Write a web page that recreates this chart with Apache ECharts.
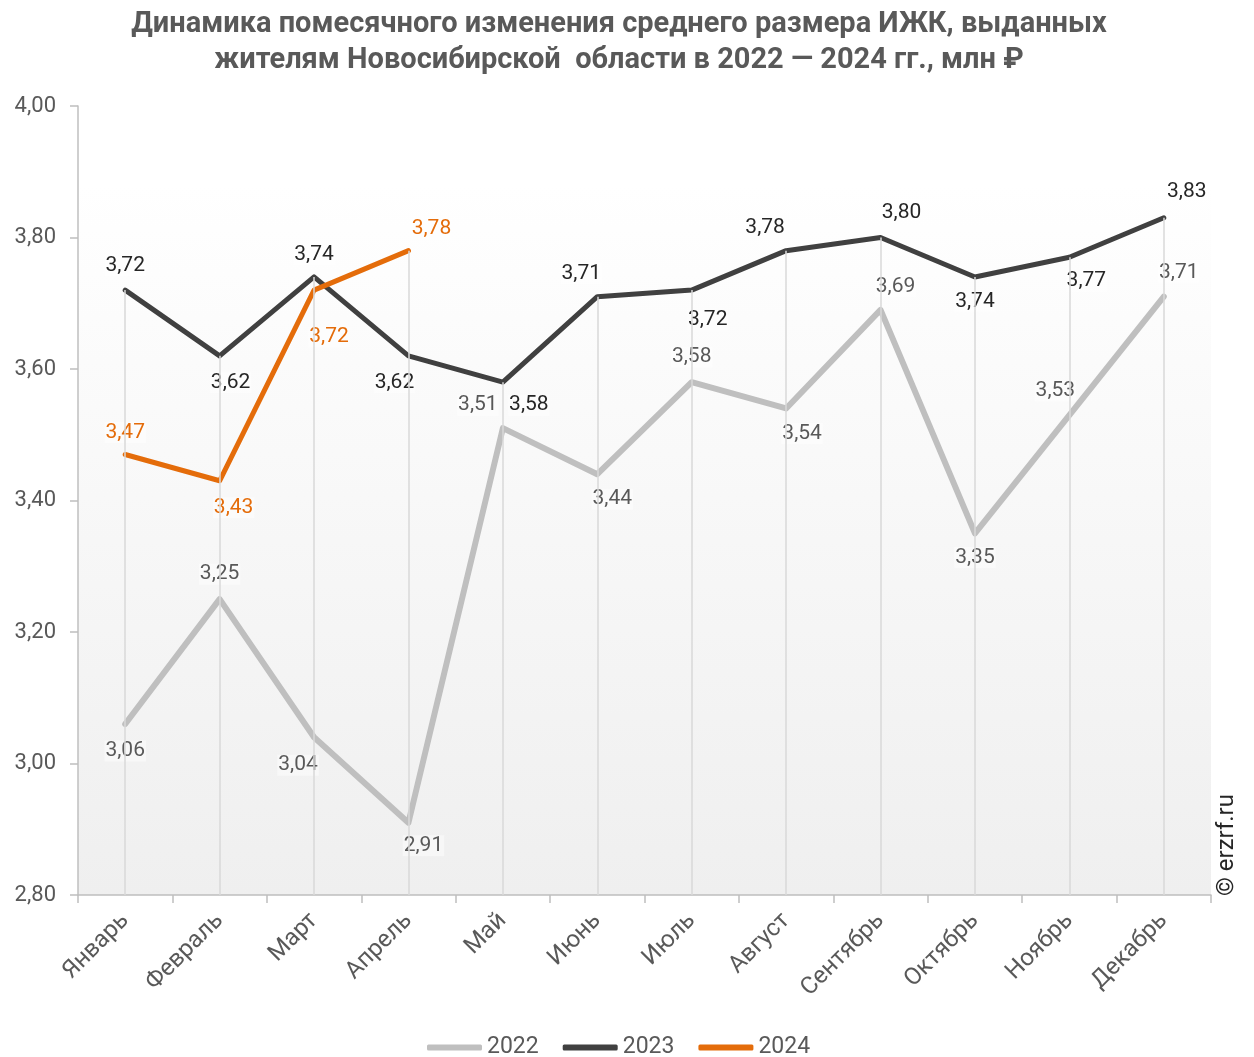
<!DOCTYPE html>
<html>
<head>
<meta charset="utf-8">
<script src="https://cdn.jsdelivr.net/npm/echarts@6/dist/echarts.min.js"></script>
<style>
html,body{margin:0;padding:0;background:#fff;}
#main{width:1254px;height:1057px;}
</style>
</head>
<body>
<div id="main"></div>
<script>
// months
var months = ['Январь','Февраль','Март','Апрель','Май','Июнь','Июль','Август','Сентябрь','Октябрь','Ноябрь','Декабрь'];
// values, mln rub
var y2022 = [3.06,3.25,3.04,2.91,3.51,3.44,3.58,3.54,3.69,3.35,3.53,3.71];
var y2023 = [3.72,3.62,3.74,3.62,3.58,3.71,3.72,3.78,3.80,3.74,3.77,3.83];
var y2024 = [3.47,3.43,3.72,3.78];
var yTicks = [2.8,3.0,3.2,3.4,3.6,3.8,4.0];

// label shift from point, px
var off2022 = [[0,27],[0,-25],[-16,28],[15,23],[-25,-23],[15,25],[0,-25],[16,25],[15,-23],[0,24],[-14,-24],[15,-24]];
var off2023 = [[0,-24],[11,27],[0,-22],[-14,27],[26,23],[-16,-23],[16,30],[-21,-23],[21,-25],[0,25],[17,24],[23,-26]];
var off2024 = [[0,-22],[14,27],[15,47],[23,-22]];

function fmt(v){ return v.toFixed(2).replace('.',','); }

function withLabels(vals,offs){
	var arr = [];
	for(var i=0;i<vals.length;i++){
		arr.push({value:vals[i],label:{offset:offs[i]}});
	}
	return arr;
}

//drop lines from the top point of each month
function dropLines(){
	var lines = [];
	for(var i=0;i<months.length;i++){
		var top = Math.max(y2022[i], y2023[i], (i < y2024.length ? y2024[i] : -1));
		lines.push([{coord:[months[i],top]},{coord:[months[i],yTicks[0]]}]);
	}
	return lines;
}

var myChart = echarts.init(document.getElementById('main'));

function lineSeries(name,vals,offs,color,width,labelColor){
	return {
		name:name,
		type:'line',
		data:withLabels(vals,offs),
		symbol:'circle',
		symbolSize:1,
		lineStyle:{color:color,width:width,cap:'round',join:'round'},
		itemStyle:{color:color},
		z:3,
		label:{
			show:true,
			position:'inside',
			fontFamily:'Roboto',
			fontSize:21,
			color:labelColor,
			backgroundColor:'rgba(255,255,255,0.45)',
			padding:[0,1],
			formatter:function(p){ return fmt(p.value); }
		},
		emphasis:{disabled:true},
		animation:false
	};
}

var option = {
	backgroundColor:'#ffffff',
	title:{
		text:'Динамика помесячного изменения среднего размера ИЖК, выданных\nжителям Новосибирской  области в 2022 — 2024 гг., млн ₽',
		left:619,
		top:7,
		padding:0,
		textAlign:'center',
		textStyle:{fontFamily:'Roboto',fontSize:29,fontWeight:'bold',color:'#595959',lineHeight:36}
	},
	legend:{
		data:['2022','2023','2024'],
		bottom:-7,
		left:422,
		icon:'roundRect',
		itemWidth:55,
		itemHeight:6,
		itemGap:24,
		textStyle:{fontFamily:'Roboto',fontSize:23,color:'#595959'}
	},
	grid:{
		left:78,right:43,top:106,bottom:162,
		show:true,
		borderWidth:0,
		backgroundColor:new echarts.graphic.LinearGradient(0,0,0,1,[
			{offset:0,color:'#ffffff'},
			{offset:0.1,color:'#ffffff'},
			{offset:1,color:'#efefef'}
		])
	},
	xAxis:{
		type:'category',
		data:months,
		boundaryGap:true,
		axisLine:{lineStyle:{color:'#bfbfbf',width:1.5}},
		axisTick:{show:true,length:8,lineStyle:{color:'#bfbfbf',width:1.5}},
		axisLabel:{rotate:45,fontFamily:'Roboto',fontSize:24,color:'#595959',margin:22,interval:0},
		splitLine:{show:false}
	},
	yAxis:{
		type:'value',
		min:yTicks[0],
		max:yTicks[yTicks.length-1],
		interval:0.2,
		axisLine:{show:true,lineStyle:{color:'#bfbfbf',width:1.5}},
		axisTick:{show:true,length:8,lineStyle:{color:'#bfbfbf',width:1.5}},
		axisLabel:{fontFamily:'Roboto',fontSize:22,color:'#595959',margin:22,formatter:function(v){return fmt(v);}},
		splitLine:{show:false}
	},
	graphic:[{
		type:'text',
		x:1227,
		y:845,
		rotation:Math.PI/2,
		style:{text:'© erzrf.ru',fontFamily:'Roboto',fontSize:24,fill:'#262626',align:'center',verticalAlign:'middle'}
	}],
	series:[
		{
			name:'drop',
			type:'line',
			data:[],
			z:1,
			silent:true,
			markLine:{
				silent:true,
				symbol:['none','none'],
				label:{show:false},
				lineStyle:{color:'#d9d9d9',width:1.5,type:'solid'},
				emphasis:{disabled:true},
				animation:false,
				data:dropLines()
			}
		},
		lineSeries('2022',y2022,off2022,'#bfbfbf',6,'#595959'),
		lineSeries('2023',y2023,off2023,'#404040',5,'#262626'),
		lineSeries('2024',y2024,off2024,'#e46c0a',5,'#e46c0a')
	]
};

myChart.clear();
myChart.setOption(option);
</script>
</body>
</html>
